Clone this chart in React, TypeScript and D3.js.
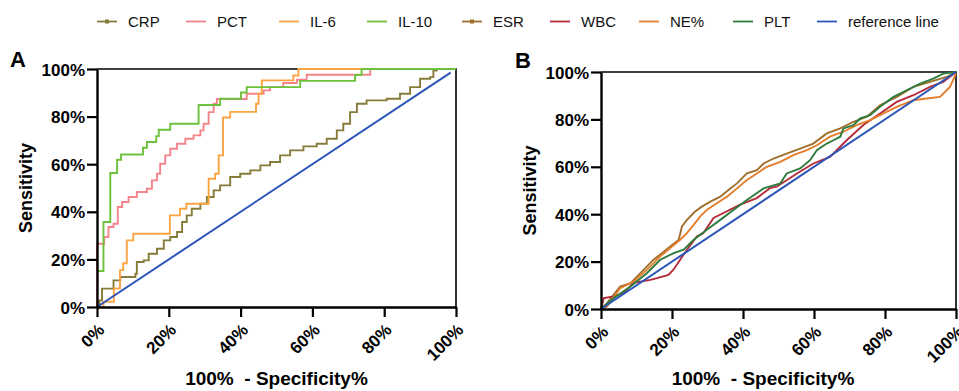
import * as d3 from "d3";
import { useEffect, useRef } from "react";

const W = 959;
const H = 391;

const axisTicks = [0, 20, 40, 60, 80, 100];

// Panel A: [100% - specificity, sensitivity] step vertices (%)
const crp: [number, number][] = [
  [0, 0], [0.7, 2.8], [1.4, 7.7], [4.6, 11.2], [6.5, 12.6], [10.7, 14], [11.1, 18.9],
  [13, 19.6], [14.4, 22.4], [16.7, 24.5], [18.6, 28], [20.4, 29.4], [22.3, 31.5],
  [23.7, 35.7], [25, 38.5], [26.4, 41.3], [28.8, 43.4], [30.6, 46.2], [32.5, 49],
  [34.3, 51.1], [37.1, 54.6], [39.9, 56], [42.7, 57.4], [45.5, 59.5], [48.2, 60.9],
  [51, 63.7], [53.8, 65.8], [57.5, 67.5], [61.2, 68.6], [64, 70.7], [66.8, 74.2],
  [68.6, 77], [70.5, 81.9], [72.4, 85.4], [75.1, 86.8], [80.7, 87.5], [84.4, 89.6],
  [87.2, 92.4], [90, 95.9], [92.8, 96.6], [93.7, 99.4], [94.6, 100], [100, 100],
];
const pct: [number, number][] = [
  [0, 0], [0, 26.6], [2, 29.4], [3.2, 33.6], [4.6, 35], [5.8, 42], [7, 44.1],
  [8.8, 46.2], [11.1, 48.3], [13.9, 49.7], [15.3, 53.2], [16.7, 56], [17.6, 60.2],
  [19, 63.7], [20.4, 66.5], [22.3, 68.6], [24.6, 70.7], [26.9, 72.1], [28.8, 74.2],
  [29.7, 77], [31.1, 81.9], [32.5, 85.4], [33.4, 87.4], [41.7, 89.6], [46.4, 91],
  [48.2, 92.4], [51.9, 94.1], [55.7, 95.5], [58.4, 97.6], [76.1, 100], [100, 100],
];
const il6: [number, number][] = [
  [0, 0], [1.8, 2.2], [4.7, 7.8], [6.4, 15.5], [7.3, 18.4], [8.3, 28], [10.1, 30.8],
  [20.3, 38.5], [23.1, 41.3], [24.9, 43.4], [31.1, 53.9], [32.9, 56], [33.9, 63.7],
  [35.1, 79.6], [37.1, 82], [44.3, 85.4], [45, 89.6], [45.9, 95.2], [54.7, 97.3],
  [56.1, 100], [100, 100],
];
const il10: [number, number][] = [
  [0, 15.1], [1.8, 35.7], [3.7, 56.3], [5.6, 61.9], [6.7, 64.1], [12.8, 66.9],
  [13.9, 69.3], [16.5, 71.8], [17.2, 74.5], [20.4, 77], [28.3, 84.9], [34.3, 87.5],
  [40.1, 90.1], [41.7, 92.4], [56.6, 95], [71.9, 97.5], [73.7, 100], [100, 100],
];
const refA: [number, number][] = [[0, 0], [98.5, 98.5]];

// Panel B
const esr: [number, number][] = [
  [0, 0], [1.7, 2.5], [5.4, 9.5], [8.3, 10.9], [12, 16.5], [14.8, 20.8], [17.2, 23.6],
  [19.5, 26.4], [21.9, 29.2], [22.8, 34.8], [24.2, 37.6], [26.5, 41.1], [28.4, 43.2],
  [30.8, 45.3], [33.6, 47.4], [35.9, 50.2], [38.3, 53], [41.1, 57.2], [43.9, 58.6],
  [45.8, 61.4], [48.6, 63.5], [52.3, 65.6], [56.1, 67.7], [59.8, 69.8], [63.6, 74.1],
  [67.4, 76.2], [71.1, 79], [74.9, 81.1], [78.6, 86], [83.3, 89.5], [88, 93.7],
  [92.7, 95.8], [97.3, 97.9], [100, 100],
];
const wbc: [number, number][] = [
  [0, 0], [0.8, 4.6], [3.6, 5.3], [6.4, 6.7], [9.1, 11], [13.9, 12.3], [15.8, 13],
  [19, 14.4], [20.4, 16.6], [22.3, 20.8], [24.2, 25], [27, 30.6], [28.8, 32],
  [31.7, 38.4], [34.5, 40.5], [39.2, 44], [43.9, 46.8], [47.6, 51], [49.5, 51.6],
  [55.2, 57.2], [59.8, 61.4], [64.5, 64.2], [69.2, 71.2], [73.9, 77.6], [78.6, 82.5],
  [83.3, 87.4], [88, 90.2], [92.7, 93.7], [96.4, 95.8], [100, 100],
];
const ne: [number, number][] = [
  [0, 0], [1.7, 1.1], [5.4, 8.8], [9.2, 11.6], [12.9, 16.5], [16.7, 22.2], [20, 26.4],
  [22.3, 29.2], [24.2, 32], [26.1, 35.5], [27.9, 39], [29.8, 41.8], [32.6, 44.6],
  [35.5, 47.4], [38.3, 50.9], [41.1, 54.4], [43.9, 57.2], [46.7, 60], [50.5, 62.1],
  [54.2, 64.9], [58, 67], [60.8, 69.1], [64.5, 72.7], [68.3, 74.8], [72, 77.6],
  [75.8, 79.7], [78.6, 81.8], [83.3, 85.3], [88, 88.1], [91.7, 88.8], [95.5, 89.5],
  [98.3, 93.7], [100, 99.3],
];
const plt: [number, number][] = [
  [0, 0], [3.6, 4.6], [8.3, 9.5], [12.9, 15.1], [16.7, 20.8], [20.5, 23.6], [23.3, 25],
  [26.1, 29.2], [29.8, 33.4], [33.6, 37.6], [37.3, 41.8], [41.1, 46], [45.8, 50.9],
  [50.5, 53], [52.3, 57.2], [56.1, 59.3], [58.9, 62.8], [60.8, 67], [63.6, 69.8],
  [65.5, 71.2], [67.4, 72.7], [68.3, 76.2], [71.1, 77.6], [73, 80.4], [75.8, 81.8],
  [78.6, 85.3], [82.4, 89.5], [86.1, 92.3], [89.9, 95.1], [93.6, 97.2], [96.4, 99.3],
  [100, 100],
];
const refB: [number, number][] = [[0, 0], [100, 100]];

const legendNames = ["CRP", "PCT", "IL-6", "IL-10", "ESR", "WBC", "NE%", "PLT", "reference line"];
const legendColors = ["#877b3a", "#f3848b", "#fba444", "#6cc13d", "#9e6f2e", "#b42a3b", "#e37d2b", "#2e7b3e", "#2b55b7"];
const legendMarker = [true, false, false, false, true, false, false, false, false];
const legendX = [97, 186, 279, 367, 462, 550, 639, 733, 817];

const FONT = "'Liberation Sans', Arial, Helvetica, sans-serif";

type Sel = d3.Selection<SVGGElement, unknown, null, undefined>;

function drawPanel(
  g: Sel,
  box: { l: number; r: number; t: number; b: number },
  series: { data: [number, number][]; color: string }[],
  reference: [number, number][],
  curve: d3.CurveFactory,
  letter: { x: number; y: number; text: string },
  titleX: number,
  ylabX: number
) {
  const x = d3.scaleLinear().domain([0, 100]).range([box.l, box.r]);
  const y = d3.scaleLinear().domain([0, 100]).range([box.b, box.t]);

  // frame (top & right)
  g.append("path")
    .attr("d", `M${box.l},${box.t}H${box.r}V${box.b}`)
    .attr("fill", "none")
    .attr("stroke", "#000")
    .attr("stroke-width", 1.6);

  const line = d3
    .line<[number, number]>()
    .x((d) => x(d[0]))
    .y((d) => y(d[1]));

  series.forEach((s) => {
    g.append("path")
      .attr("d", line.curve(curve)(s.data))
      .attr("fill", "none")
      .attr("stroke", s.color)
      .attr("stroke-width", 1.9)
      .attr("stroke-linejoin", "miter");
  });

  g.append("path")
    .attr("d", line.curve(d3.curveLinear)(reference))
    .attr("fill", "none")
    .attr("stroke", legendColors[8])
    .attr("stroke-width", 2);

  const yAxis = g
    .append("g")
    .attr("transform", `translate(${box.l},0)`)
    .call(
      d3.axisLeft(y).tickValues(axisTicks).tickSize(10).tickSizeOuter(0).tickPadding(2)
        .tickFormat((d) => `${d}%`)
    );
  const xAxis = g
    .append("g")
    .attr("transform", `translate(0,${box.b})`)
    .call(
      d3.axisBottom(x).tickValues(axisTicks).tickSize(10).tickSizeOuter(0)
        .tickFormat((d) => `${d}%`)
    );

  [yAxis, xAxis].forEach((a) => {
    a.select(".domain").attr("stroke", "#000").attr("stroke-width", 2.4);
    a.selectAll(".tick line").attr("stroke", "#000").attr("stroke-width", 2.2);
    a.selectAll("text")
      .attr("font-family", FONT)
      .attr("font-weight", "bold")
      .attr("font-size", 17)
      .attr("fill", "#000");
  });
  yAxis.selectAll("text").attr("dy", "0.36em");
  xAxis
    .selectAll("text")
    .attr("y", 0)
    .attr("dy", 0)
    .attr("text-anchor", "end")
    .attr("transform", "translate(8,24) rotate(-45)");

  g.append("text")
    .attr("x", titleX)
    .attr("y", 385)
    .attr("text-anchor", "middle")
    .attr("font-weight", "bold")
    .attr("font-size", 19)
    .style("white-space", "pre")
    .text("100%  - Specificity%");

  g.append("text")
    .attr("transform", `translate(${ylabX},${(box.t + box.b) / 2}) rotate(-90)`)
    .attr("text-anchor", "middle")
    .attr("font-weight", "bold")
    .attr("font-size", 18)
    .text("Sensitivity");

  g.append("text")
    .attr("x", letter.x)
    .attr("y", letter.y)
    .attr("font-weight", "bold")
    .attr("font-size", 22)
    .text(letter.text);
}

export default function App() {
  const ref = useRef<SVGSVGElement>(null);

  useEffect(() => {
    const svg = d3.select(ref.current);
    svg.selectAll("*").remove();
    svg.attr("font-family", FONT);

    svg.append("rect").attr("width", W).attr("height", H).attr("fill", "#fff");

    // legend
    const leg = svg.append("g");
    legendNames.forEach((name, i) => {
      const lx = legendX[i];
      const item = leg.append("g");
      item
        .append("line")
        .attr("x1", lx)
        .attr("x2", lx + 20)
        .attr("y1", 21.5)
        .attr("y2", 21.5)
        .attr("stroke", legendColors[i])
        .attr("stroke-width", 1.8);
      if (legendMarker[i]) {
        item
          .append("rect")
          .attr("x", lx + 8)
          .attr("y", 19.5)
          .attr("width", 4)
          .attr("height", 4)
          .attr("fill", legendColors[i]);
      }
      item
        .append("text")
        .attr("x", lx + 31)
        .attr("y", 27)
        .attr("font-size", 15)
        .attr("fill", "#111")
        .text(name);
    });

    const gA = svg.append("g") as unknown as Sel;
    drawPanel(
      gA,
      { l: 97, r: 456, t: 69, b: 307 },
      [
        { data: crp, color: legendColors[0] },
        { data: pct, color: legendColors[1] },
        { data: il6, color: legendColors[2] },
        { data: il10, color: legendColors[3] },
      ],
      refA,
      d3.curveStepAfter,
      { x: 10, y: 67, text: "A" },
      276.5,
      32
    );

    const gB = svg.append("g") as unknown as Sel;
    drawPanel(
      gB,
      { l: 601, r: 956, t: 72, b: 309 },
      [
        { data: esr, color: legendColors[4] },
        { data: wbc, color: legendColors[5] },
        { data: ne, color: legendColors[6] },
        { data: plt, color: legendColors[7] },
      ],
      refB,
      d3.curveLinear,
      { x: 515, y: 68, text: "B" },
      763,
      536
    );
  }, []);

  return (
    <svg
      ref={ref}
      width={W}
      height={H}
      style={{ position: "absolute", left: 0, top: 0, display: "block" }}
    />
  );
}
